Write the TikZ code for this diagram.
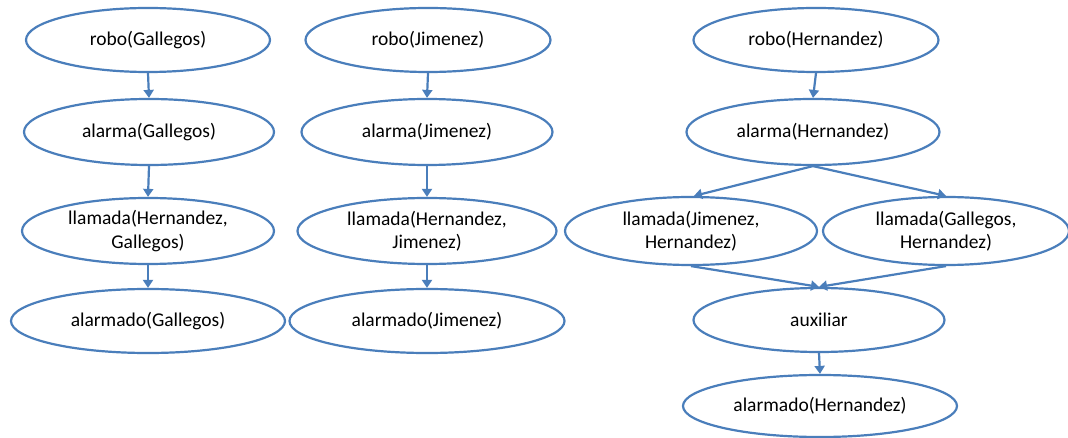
\documentclass[tikz,border=0pt]{standalone}
\usepackage{fontspec}
\setmainfont{Carlito}
\usetikzlibrary{shapes.geometric,arrows.meta}
\definecolor{edgeblue}{RGB}{74,126,187}
\begin{document}
\begin{tikzpicture}[x=1pt,y=-1pt,
  fact/.style={ellipse,draw=edgeblue,line width=2.2pt,inner sep=0pt,
    align=center,font=\fontsize{19.5}{23.5}\selectfont,text=black},
  link/.style={draw=edgeblue,line width=2.2pt,
    -{Triangle[length=8pt,width=10pt]}}]
\useasboundingbox (0,0) rectangle (1068,438);
\fill[white] (0,0) rectangle (1068,438);

% first chain
\node[fact,minimum width=244pt,minimum height=64pt] (rG) at (148,40) {robo(Gallegos)};
\node[fact,minimum width=250pt,minimum height=66pt] (aG) at (149,132) {alarma(Gallegos)};
\node[fact,minimum width=252pt,minimum height=66pt] (lHG) at (148,231) {llamada(Hernandez,\\Gallegos)};
\node[fact,minimum width=274pt,minimum height=64pt] (mG) at (148,321) {alarmado(Gallegos)};

% second chain
\node[fact,minimum width=245pt,minimum height=64pt] (rJ) at (428,40) {robo(Jimenez)};
\node[fact,minimum width=251pt,minimum height=66pt] (aJ) at (427,132) {alarma(Jimenez)};
\node[fact,minimum width=259pt,minimum height=66pt] (lHJ) at (427,231) {llamada(Hernandez,\\Jimenez)};
\node[fact,minimum width=275pt,minimum height=64pt] (mJ) at (427,321) {alarmado(Jimenez)};

% third network
\node[fact,minimum width=245pt,minimum height=64pt] (rH) at (816,40) {robo(Hernandez)};
\node[fact,minimum width=253pt,minimum height=66pt] (aH) at (813,132) {alarma(Hernandez)};
\node[fact,minimum width=252pt,minimum height=68pt] (lJH) at (691,231) {llamada(Jimenez,\\Hernandez)};
\node[fact,minimum width=246pt,minimum height=68pt] (lGH) at (946,231) {llamada(Gallegos,\\Hernandez)};
\node[fact,minimum width=251pt,minimum height=64pt] (aux) at (819,320) {auxiliar};
\node[fact,minimum width=274pt,minimum height=62pt] (mH) at (820,406) {alarmado(Hernandez)};

% connectors
\draw[link] (rG.south) -- (aG.north);
\draw[link] (aG.south) -- (lHG.north);
\draw[link] (lHG.south) -- (mG.north);

\draw[link] (rJ.south) -- (aJ.north);
\draw[link] (aJ.south) -- (lHJ.north);
\draw[link] (lHJ.south) -- (mJ.north);

\draw[link] (rH.south) -- (aH.north);
\draw[link] (aH.south) -- ([xshift=3pt]lJH.north);
\draw[link] (aH.south) -- (lGH.north);
\draw[link] (lJH.south) -- (aux.north);
\draw[link] (lGH.south) -- (aux.north);
\draw[link] (aux.south) -- (mH.north);
\end{tikzpicture}
\end{document}
